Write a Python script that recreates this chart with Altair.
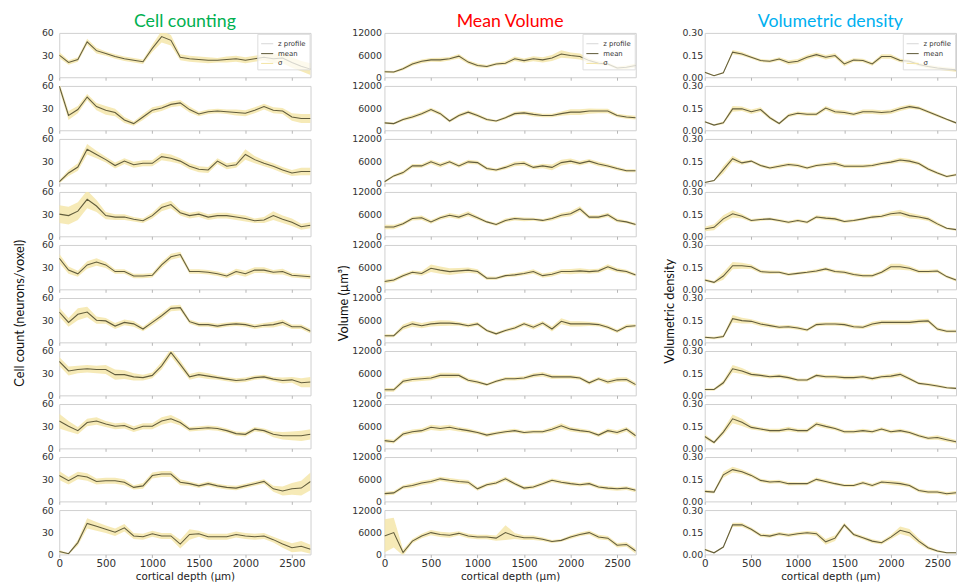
import altair as alt
import pandas as pd

# ---------------- data (100 µm grid) ----------------
depth_um = list(range(0, 2701, 100))
x_ticks = [0, 500, 1000, 1500, 2000, 2500]
legend_labels = ["z profile", "mean", "σ"]

cc_mean = [
    [30, 20, 24, 48, 36, 32, 28, 25, 23, 21, 39, 55, 50, 27, 25, 24, 23, 23, 24, 25, 23, 25, 27, 25, 26, 20, 15, 11],
    [60, 20, 28, 45, 32, 27, 24, 14, 9, 18, 27, 30, 35, 37, 28, 22, 25, 26, 25, 24, 23, 27, 32, 27, 26, 18, 16, 16],
    [2, 14, 22, 46, 39, 32, 24, 30, 25, 27, 27, 36, 34, 30, 23, 19, 18, 30, 23, 25, 39, 32, 27, 23, 18, 14, 16, 16],
    [30, 28, 34, 50, 41, 28, 26, 26, 23, 21, 28, 39, 43, 32, 28, 30, 26, 28, 28, 26, 24, 21, 22, 28, 23, 19, 13, 15],
    [42, 26, 21, 33, 37, 33, 24, 24, 18, 18, 19, 33, 44, 47, 24, 24, 23, 21, 18, 24, 21, 26, 26, 23, 24, 19, 18, 17],
    [41, 27, 38, 41, 30, 29, 22, 27, 25, 18, 27, 36, 46, 47, 28, 24, 24, 22, 24, 25, 24, 21, 23, 24, 27, 21, 21, 15],
    [46, 33, 35, 36, 35, 35, 28, 28, 25, 24, 27, 40, 58, 42, 25, 28, 26, 24, 22, 20, 21, 24, 25, 22, 20, 21, 17, 18],
    [37, 30, 24, 35, 37, 33, 30, 31, 26, 30, 30, 37, 40, 35, 26, 27, 28, 27, 24, 20, 19, 26, 24, 19, 17, 17, 17, 19],
    [35, 28, 35, 33, 27, 28, 28, 26, 19, 21, 35, 37, 37, 26, 24, 21, 24, 21, 19, 18, 21, 24, 27, 17, 14, 17, 18, 27],
    [4, 1, 16, 42, 38, 34, 30, 36, 25, 24, 28, 25, 25, 14, 27, 28, 24, 24, 24, 27, 25, 24, 25, 20, 14, 9, 11, 7],
]
cc_sd = [
    [4, 3, 3, 4, 4, 3, 3, 3, 3, 3, 5, 8, 7, 4, 4, 4, 4, 3, 4, 4, 4, 4, 4, 6, 7, 7, 7, 8],
    [5, 6, 5, 4, 5, 6, 5, 4, 3, 4, 4, 4, 4, 4, 4, 3, 3, 3, 3, 4, 4, 4, 4, 4, 4, 5, 6, 6],
    [2, 4, 5, 7, 5, 4, 4, 4, 4, 4, 4, 5, 5, 4, 4, 4, 4, 4, 4, 4, 7, 5, 4, 4, 4, 4, 5, 5],
    [12, 12, 12, 12, 8, 5, 4, 4, 3, 3, 4, 5, 5, 4, 4, 4, 4, 4, 4, 4, 4, 3, 4, 6, 5, 5, 4, 4],
    [6, 5, 4, 5, 5, 4, 3, 3, 3, 3, 3, 4, 4, 4, 3, 3, 3, 3, 3, 4, 4, 4, 4, 3, 4, 3, 3, 3],
    [6, 6, 8, 7, 5, 4, 4, 4, 4, 3, 4, 4, 4, 4, 3, 3, 3, 3, 3, 3, 3, 3, 3, 4, 4, 3, 3, 3],
    [6, 6, 5, 5, 5, 6, 7, 6, 5, 4, 4, 5, 5, 5, 4, 4, 4, 3, 3, 3, 3, 3, 3, 3, 4, 4, 6, 7],
    [10, 7, 5, 5, 5, 4, 4, 4, 4, 4, 4, 5, 5, 4, 3, 3, 3, 3, 3, 3, 3, 3, 3, 4, 5, 6, 7, 7],
    [6, 5, 5, 5, 4, 4, 4, 4, 3, 4, 4, 4, 4, 4, 3, 3, 3, 3, 3, 3, 3, 3, 3, 4, 6, 8, 10, 12],
    [2, 1, 4, 7, 6, 5, 5, 5, 4, 4, 4, 4, 4, 6, 7, 4, 4, 4, 4, 4, 4, 4, 4, 4, 5, 6, 7, 6],
]

mv_mean = [
    [1500, 1400, 2300, 3600, 4300, 4700, 4700, 5000, 5700, 4100, 3200, 2900, 3600, 3800, 5000, 4500, 5000, 4700, 5200, 6300, 5900, 5600, 4500, 3800, 3600, 2500, 2700, 3200],
    [2000, 1800, 2900, 3600, 4500, 5600, 4500, 2500, 4000, 4900, 4000, 2900, 2500, 3400, 4500, 4700, 4300, 4000, 4000, 4500, 4900, 4900, 5200, 5200, 5200, 4000, 3600, 3400],
    [400, 2000, 2900, 4700, 4700, 5800, 4900, 5800, 4700, 5800, 5600, 4000, 3600, 4300, 5200, 5400, 4300, 4700, 4300, 5600, 6000, 5400, 6000, 5200, 4700, 4000, 3400, 3400],
    [2500, 2500, 3400, 4800, 5000, 3900, 5000, 5700, 5200, 6100, 5000, 3900, 3200, 4300, 4800, 4600, 4600, 4300, 4800, 5700, 6100, 7400, 5200, 5200, 5800, 4300, 3900, 3200],
    [2100, 2500, 3700, 4600, 4300, 5700, 5200, 4800, 5000, 5200, 4800, 3000, 3000, 3700, 3900, 4300, 4800, 3700, 4100, 4800, 4800, 5000, 4800, 5000, 6100, 5200, 4800, 3900],
    [1800, 1800, 4100, 5000, 4500, 5000, 5200, 5200, 5000, 4500, 5000, 3200, 2300, 3200, 3900, 5000, 4100, 5200, 3600, 5700, 5000, 5000, 5000, 4800, 4100, 3000, 4300, 4500],
    [1500, 1500, 3800, 4300, 4500, 4700, 5400, 5400, 5400, 4100, 3600, 2900, 3800, 4500, 4500, 4700, 5400, 5700, 5000, 5000, 5000, 4700, 3400, 4500, 3600, 4200, 4300, 2900],
    [2100, 1800, 3900, 4500, 4800, 5700, 5400, 5700, 5200, 4800, 4300, 3600, 4100, 4500, 4800, 4300, 4500, 4500, 5200, 6100, 5200, 4800, 4500, 3600, 4800, 4300, 5200, 3400],
    [2100, 2300, 3900, 4300, 5000, 5400, 6100, 5700, 5400, 5200, 3400, 4500, 5000, 6100, 4800, 3600, 3900, 4800, 5700, 5200, 4800, 4500, 4800, 3900, 3600, 3400, 3600, 3000],
    [5000, 5900, 500, 3600, 5000, 5900, 5400, 5200, 5700, 5000, 4700, 4700, 4400, 5900, 5000, 4500, 4500, 4100, 3500, 3800, 4700, 5400, 5900, 4700, 4400, 2500, 2700, 900],
]
mv_sd = [
    [300, 300, 400, 500, 500, 500, 600, 500, 600, 500, 500, 400, 400, 500, 600, 600, 700, 700, 800, 1000, 800, 800, 600, 500, 400, 400, 500, 500],
    [300, 300, 400, 500, 500, 500, 500, 400, 500, 500, 500, 400, 300, 400, 500, 500, 600, 500, 500, 600, 800, 800, 700, 600, 600, 500, 500, 500],
    [300, 400, 500, 500, 500, 600, 600, 500, 500, 600, 500, 500, 400, 500, 600, 600, 500, 600, 800, 800, 700, 600, 600, 600, 500, 500, 400, 400],
    [600, 600, 500, 500, 600, 500, 500, 600, 600, 700, 500, 400, 400, 500, 500, 500, 400, 400, 500, 600, 700, 700, 500, 500, 600, 500, 400, 400],
    [500, 500, 500, 500, 600, 1000, 1000, 900, 800, 700, 600, 500, 400, 400, 500, 500, 600, 600, 600, 600, 700, 700, 600, 600, 700, 600, 500, 400],
    [400, 400, 700, 800, 700, 700, 800, 700, 500, 500, 500, 400, 400, 400, 500, 500, 600, 600, 700, 800, 700, 700, 600, 500, 500, 500, 500, 400],
    [500, 500, 600, 600, 600, 600, 700, 700, 600, 500, 500, 400, 400, 500, 500, 500, 600, 600, 600, 500, 500, 500, 500, 500, 600, 600, 600, 600],
    [500, 500, 600, 600, 600, 700, 700, 700, 600, 600, 500, 500, 500, 500, 500, 500, 500, 500, 600, 700, 600, 600, 500, 500, 600, 600, 600, 700],
    [500, 500, 500, 600, 600, 600, 600, 600, 600, 600, 500, 500, 500, 600, 500, 500, 500, 500, 500, 500, 500, 500, 500, 500, 500, 500, 500, 500],
    [4500, 4000, 800, 600, 600, 700, 700, 700, 600, 600, 600, 600, 700, 2000, 800, 600, 600, 500, 400, 400, 500, 500, 600, 600, 600, 600, 600, 700],
]

vd_mean = [
    [0.034, 0.011, 0.03, 0.17, 0.158, 0.135, 0.113, 0.108, 0.124, 0.10, 0.108, 0.135, 0.153, 0.135, 0.147, 0.09, 0.117, 0.113, 0.09, 0.14, 0.14, 0.113, 0.108, 0.086, 0.072, 0.063, 0.056, 0.05],
    [0.058, 0.035, 0.05, 0.145, 0.145, 0.125, 0.14, 0.085, 0.046, 0.10, 0.115, 0.108, 0.108, 0.15, 0.125, 0.12, 0.108, 0.125, 0.125, 0.12, 0.125, 0.145, 0.16, 0.15, 0.125, 0.10, 0.074, 0.05],
    [0.005, 0.018, 0.092, 0.166, 0.138, 0.15, 0.12, 0.104, 0.115, 0.127, 0.12, 0.104, 0.12, 0.127, 0.134, 0.115, 0.115, 0.115, 0.12, 0.134, 0.143, 0.157, 0.15, 0.134, 0.097, 0.07, 0.046, 0.058],
    [0.05, 0.061, 0.118, 0.152, 0.136, 0.107, 0.114, 0.118, 0.107, 0.095, 0.107, 0.095, 0.13, 0.123, 0.118, 0.10, 0.107, 0.118, 0.13, 0.136, 0.152, 0.159, 0.14, 0.13, 0.118, 0.084, 0.054, 0.045],
    [0.063, 0.047, 0.09, 0.16, 0.16, 0.153, 0.12, 0.115, 0.115, 0.10, 0.108, 0.115, 0.124, 0.138, 0.12, 0.115, 0.10, 0.092, 0.092, 0.115, 0.153, 0.153, 0.142, 0.12, 0.12, 0.124, 0.086, 0.063],
    [0.034, 0.029, 0.04, 0.16, 0.147, 0.142, 0.124, 0.113, 0.102, 0.106, 0.097, 0.084, 0.12, 0.124, 0.124, 0.12, 0.106, 0.102, 0.124, 0.135, 0.135, 0.135, 0.135, 0.142, 0.145, 0.09, 0.075, 0.075],
    [0.04, 0.04, 0.085, 0.18, 0.165, 0.142, 0.135, 0.126, 0.13, 0.12, 0.104, 0.104, 0.135, 0.126, 0.126, 0.12, 0.12, 0.126, 0.113, 0.126, 0.13, 0.142, 0.113, 0.081, 0.074, 0.063, 0.052, 0.047],
    [0.08, 0.04, 0.11, 0.2, 0.176, 0.142, 0.131, 0.12, 0.12, 0.131, 0.12, 0.12, 0.165, 0.149, 0.135, 0.113, 0.113, 0.12, 0.113, 0.131, 0.113, 0.12, 0.108, 0.086, 0.068, 0.074, 0.059, 0.045],
    [0.068, 0.063, 0.18, 0.215, 0.2, 0.176, 0.142, 0.131, 0.135, 0.12, 0.12, 0.12, 0.149, 0.135, 0.12, 0.108, 0.108, 0.126, 0.108, 0.131, 0.126, 0.12, 0.108, 0.074, 0.063, 0.063, 0.052, 0.059],
    [0.034, 0.011, 0.05, 0.2, 0.2, 0.17, 0.13, 0.124, 0.14, 0.13, 0.14, 0.147, 0.14, 0.085, 0.11, 0.2, 0.135, 0.113, 0.09, 0.079, 0.117, 0.163, 0.147, 0.09, 0.045, 0.023, 0.011, 0.011],
]
vd_sd = [
    [0.005, 0.004, 0.005, 0.015, 0.012, 0.010, 0.010, 0.010, 0.012, 0.015, 0.015, 0.015, 0.015, 0.015, 0.015, 0.015, 0.012, 0.012, 0.012, 0.015, 0.015, 0.012, 0.012, 0.012, 0.012, 0.012, 0.012, 0.012],
    [0.005, 0.005, 0.010, 0.020, 0.015, 0.015, 0.015, 0.012, 0.008, 0.012, 0.012, 0.012, 0.012, 0.015, 0.015, 0.015, 0.012, 0.015, 0.015, 0.015, 0.015, 0.015, 0.015, 0.012, 0.010, 0.010, 0.008, 0.008],
    [0.003, 0.005, 0.025, 0.020, 0.012, 0.010, 0.010, 0.010, 0.012, 0.012, 0.012, 0.010, 0.010, 0.012, 0.015, 0.012, 0.012, 0.012, 0.012, 0.012, 0.012, 0.015, 0.015, 0.012, 0.012, 0.010, 0.008, 0.008],
    [0.015, 0.020, 0.025, 0.025, 0.015, 0.010, 0.010, 0.010, 0.010, 0.010, 0.010, 0.010, 0.012, 0.012, 0.012, 0.010, 0.010, 0.010, 0.012, 0.012, 0.015, 0.020, 0.020, 0.015, 0.015, 0.012, 0.008, 0.008],
    [0.010, 0.010, 0.025, 0.025, 0.020, 0.015, 0.012, 0.012, 0.010, 0.010, 0.010, 0.010, 0.012, 0.012, 0.012, 0.012, 0.012, 0.012, 0.012, 0.012, 0.020, 0.020, 0.015, 0.012, 0.012, 0.012, 0.010, 0.010],
    [0.008, 0.008, 0.010, 0.025, 0.020, 0.015, 0.015, 0.012, 0.012, 0.012, 0.012, 0.010, 0.012, 0.012, 0.012, 0.012, 0.012, 0.012, 0.015, 0.015, 0.015, 0.015, 0.015, 0.015, 0.015, 0.012, 0.010, 0.010],
    [0.008, 0.008, 0.015, 0.025, 0.020, 0.015, 0.012, 0.012, 0.012, 0.012, 0.010, 0.010, 0.012, 0.012, 0.012, 0.012, 0.012, 0.012, 0.012, 0.012, 0.015, 0.015, 0.012, 0.010, 0.010, 0.010, 0.008, 0.008],
    [0.015, 0.010, 0.020, 0.030, 0.025, 0.015, 0.012, 0.012, 0.012, 0.015, 0.012, 0.012, 0.015, 0.015, 0.012, 0.012, 0.012, 0.012, 0.012, 0.012, 0.012, 0.012, 0.012, 0.012, 0.012, 0.015, 0.015, 0.012],
    [0.010, 0.010, 0.020, 0.020, 0.015, 0.012, 0.012, 0.012, 0.012, 0.012, 0.010, 0.010, 0.012, 0.012, 0.010, 0.010, 0.010, 0.012, 0.012, 0.012, 0.015, 0.015, 0.012, 0.012, 0.012, 0.012, 0.012, 0.012],
    [0.008, 0.005, 0.005, 0.015, 0.015, 0.012, 0.012, 0.012, 0.012, 0.012, 0.012, 0.012, 0.015, 0.020, 0.020, 0.015, 0.012, 0.012, 0.012, 0.012, 0.015, 0.025, 0.025, 0.020, 0.012, 0.008, 0.005, 0.005],
]

# ---------------- styling ----------------
BAND = "#f4e6aa"
LINE = "#625d3d"
ZGREY = "#d6d6d6"
PANEL_W = 255
PANEL_H = 45

columns = [
    dict(title="Cell counting", tcolor="#00b050", mean=cc_mean, sd=cc_sd, dom=[0, 60],
         ticks=[0, 30, 60], fmt="d", ytitle="Cell count (neurons/voxel)", lpad=6, tpad=15, ty=15),
    dict(title="Mean Volume", tcolor="#ff0000", mean=mv_mean, sd=mv_sd, dom=[0, 12000],
         ticks=[0, 6000, 12000], fmt="d", ytitle="Volume (µm³)", lpad=3, tpad=1, ty=5),
    dict(title="Volumetric density", tcolor="#00b0f0", mean=vd_mean, sd=vd_sd, dom=[0, 0.3],
         ticks=[0, 0.15, 0.3], fmt=".2f", ytitle="Volumetric density", lpad=2, tpad=6, ty=13),
]


def panel(c, ri):
    mean = c["mean"][ri]
    sd = c["sd"][ri]
    df = pd.DataFrame({
        "depth": depth_um,
        "mean": mean,
        "lo": [m - s for m, s in zip(mean, sd)],
        "hi": [m + s for m, s in zip(mean, sd)],
        "kind": ["mean"] * len(depth_um),
    })
    last = ri == 9
    xs = alt.Scale(domain=[0, 2700], nice=False, zero=False)
    ys = alt.Scale(domain=c["dom"], nice=False, zero=False)
    xaxis_kw = dict(values=x_ticks, format="d", labels=last, ticks=True, tickSize=3,
                    tickColor="#b5b5b5", domain=False, grid=False, labelPadding=1,
                    labelFlush=False, labelFontSize=10.5, titleFontSize=10.5, titlePadding=3,
                    titleFont="DejaVu Sans", titleFontWeight="normal")
    xaxis_kw["title"] = "cortical depth (µm)" if last else None
    yaxis_kw = dict(values=c["ticks"], format=c["fmt"], grid=False, domain=False, ticks=False,
                    labelPadding=c["lpad"], labelFontSize=9.5)
    if ri == 5:
        yaxis_kw.update(title=c["ytitle"], titlePadding=c["tpad"], titleY=c["ty"],
                        titleFont="Lato", titleFontSize=13, titleFontWeight="normal",
                        titleColor="#111111")
    else:
        yaxis_kw["title"] = None
    xax = alt.Axis(**xaxis_kw)
    yax = alt.Axis(**yaxis_kw)

    band = alt.Chart(df).mark_area(color=BAND, opacity=0.85, clip=True).encode(
        x=alt.X("depth:Q", scale=xs, axis=xax),
        y=alt.Y("lo:Q", scale=ys, axis=yax),
        y2="hi:Q",
    )
    enc = dict(
        x=alt.X("depth:Q", scale=xs, axis=xax),
        y=alt.Y("mean:Q", scale=ys, axis=yax),
    )
    if ri == 0:
        leg = alt.Legend(orient="top-right", title=None, symbolType="stroke", labelFontSize=7,
                         labelFont="DejaVu Sans", labelColor="#333333", symbolSize=150,
                         rowPadding=0, padding=3, offset=1, strokeColor="#dddddd",
                         fillColor="rgba(255,255,255,0.75)", labelLimit=80)
        line = alt.Chart(df).mark_line(clip=True).encode(
            color=alt.Color("kind:N", scale=alt.Scale(domain=legend_labels,
                                                      range=[ZGREY, LINE, BAND]), legend=leg),
            strokeWidth=alt.StrokeWidth("kind:N", scale=alt.Scale(domain=legend_labels,
                                                                  range=[1, 1.1, 6]), legend=leg),
            **enc,
        )
    else:
        line = alt.Chart(df).mark_line(clip=True, color=LINE, strokeWidth=1.1).encode(**enc)
    ch = alt.layer(band, line).properties(width=PANEL_W, height=PANEL_H)
    if ri == 0:
        ch = ch.properties(title=alt.TitleParams(c["title"], color=c["tcolor"], fontSize=18,
                                                 font="Lato", fontWeight="normal",
                                                 anchor="middle", frame="group", offset=-3))
    return ch


col_charts = []
for c in columns:
    panels = [panel(c, ri) for ri in range(10)]
    col_charts.append(
        alt.vconcat(*panels, spacing=8.8, bounds="flush")
        .resolve_scale(color="independent", strokeWidth="independent")
    )

chart = (
    alt.hconcat(*col_charts, spacing=26)
    .resolve_scale(color="independent", strokeWidth="independent")
    .properties(padding={"left": 5, "top": 0, "right": 0, "bottom": 0})
    .configure_view(stroke="#cfcfcf", strokeWidth=1)
    .configure_axis(labelFont="DejaVu Sans", labelColor="#333333", titleColor="#222222")
)

chart.save("out.html", embed_options={"renderer": "svg", "actions": False})
